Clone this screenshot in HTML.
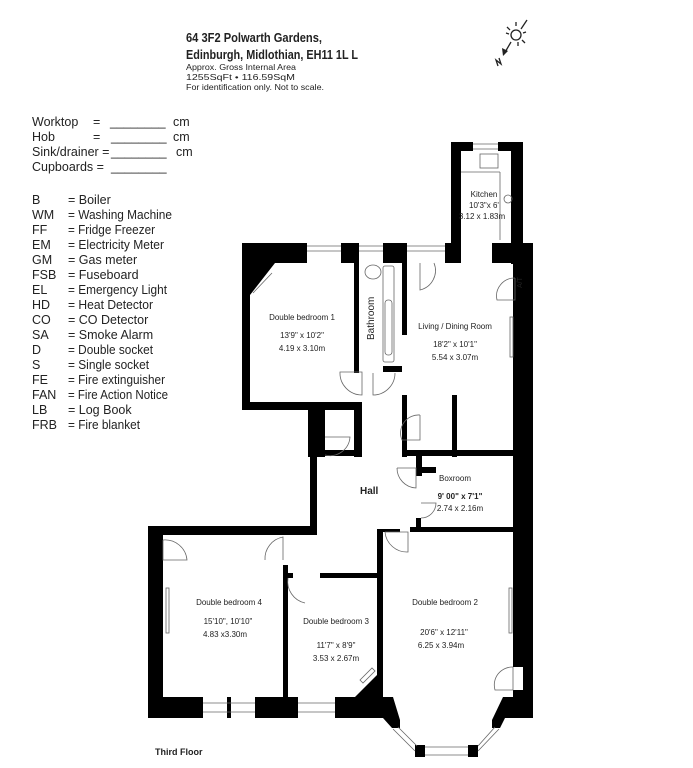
<!DOCTYPE html>
<html><head><meta charset="utf-8"><style>
html,body{margin:0;padding:0;background:#fff;}
svg{display:block;}
text{font-family:"Liberation Sans",sans-serif;fill:#222;}
.lg{font-size:12.5px;fill:#333;}
.rm{font-size:8px;fill:#333;}
</style></head><body>
<svg width="693" height="768" viewBox="0 0 693 768" xmlns="http://www.w3.org/2000/svg">
<!-- header -->
<text x="186" y="42" font-size="13" font-weight="bold" textLength="136" lengthAdjust="spacingAndGlyphs">64 3F2 Polwarth Gardens,</text>
<text x="186" y="59" font-size="13" font-weight="bold" textLength="172" lengthAdjust="spacingAndGlyphs">Edinburgh, Midlothian, EH11 1L L</text>
<text x="186" y="70" font-size="8.5" textLength="110" lengthAdjust="spacingAndGlyphs">Approx. Gross Internal Area</text>
<text x="186" y="80" font-size="8.5" fill="#555" textLength="109" lengthAdjust="spacingAndGlyphs">1255SqFt • 116.59SqM</text>
<text x="186" y="90" font-size="8.5" fill="#555" textLength="138" lengthAdjust="spacingAndGlyphs">For identification only. Not to scale.</text>
<!-- compass -->
<g stroke="#222" stroke-width="1.3" fill="none">
<circle cx="516" cy="35" r="5"/>
<line x1="516" y1="22" x2="516" y2="26"/><line x1="506" y1="33" x2="509" y2="34"/><line x1="523" y1="33" x2="526" y2="32"/>
<line x1="507" y1="27" x2="510" y2="30"/><line x1="522" y1="40" x2="525" y2="43"/><line x1="518" y1="42" x2="518" y2="46"/>
<line x1="527" y1="20" x2="521" y2="29"/>
<line x1="511" y1="42" x2="504" y2="54"/>
<path d="M499 58 L501 64 L496 60 L498 66"/>
</g>
<path d="M503 56 L502 48 L508 51 Z" fill="#222"/>
<!-- legend -->
<g class="lg">
<text x="32" y="126">Worktop</text><text x="93" y="126">=</text><text x="110" y="126">________</text><text x="173" y="126">cm</text>
<text x="32" y="141">Hob</text><text x="93" y="141">=</text><text x="111" y="141">________</text><text x="173" y="141">cm</text>
<text x="32" y="156">Sink/drainer =</text><text x="111" y="156">________</text><text x="176" y="156">cm</text>
<text x="32" y="171">Cupboards =</text><text x="111" y="171">________</text>
</g>
<g class="lg">
<text x="32" y="204">B</text><text x="68" y="204">= Boiler</text>
<text x="32" y="219">WM</text><text x="68" y="219" textLength="104" lengthAdjust="spacingAndGlyphs">= Washing Machine</text>
<text x="32" y="234">FF</text><text x="68" y="234" textLength="87" lengthAdjust="spacingAndGlyphs">= Fridge Freezer</text>
<text x="32" y="249">EM</text><text x="68" y="249" textLength="96" lengthAdjust="spacingAndGlyphs">= Electricity Meter</text>
<text x="32" y="264">GM</text><text x="68" y="264">= Gas meter</text>
<text x="32" y="279">FSB</text><text x="68" y="279">= Fuseboard</text>
<text x="32" y="294">EL</text><text x="68" y="294" textLength="99" lengthAdjust="spacingAndGlyphs">= Emergency Light</text>
<text x="32" y="309">HD</text><text x="68" y="309" textLength="85" lengthAdjust="spacingAndGlyphs">= Heat Detector</text>
<text x="32" y="324">CO</text><text x="68" y="324">= CO Detector</text>
<text x="32" y="339">SA</text><text x="68" y="339">= Smoke Alarm</text>
<text x="32" y="354">D</text><text x="68" y="354" textLength="85" lengthAdjust="spacingAndGlyphs">= Double socket</text>
<text x="32" y="369">S</text><text x="68" y="369" textLength="81" lengthAdjust="spacingAndGlyphs">= Single socket</text>
<text x="32" y="384">FE</text><text x="68" y="384" textLength="97" lengthAdjust="spacingAndGlyphs">= Fire extinguisher</text>
<text x="32" y="399">FAN</text><text x="68" y="399" textLength="100" lengthAdjust="spacingAndGlyphs">= Fire Action Notice</text>
<text x="32" y="414">LB</text><text x="68" y="414">= Log Book</text>
<text x="32" y="429">FRB</text><text x="68" y="429" textLength="72" lengthAdjust="spacingAndGlyphs">= Fire blanket</text>
</g>
<!-- walls -->
<g fill="#000">
<!-- kitchen -->
<rect x="451" y="142" width="10" height="121"/>
<rect x="451" y="142" width="22" height="9"/>
<rect x="498" y="142" width="25" height="9"/>
<rect x="511" y="142" width="12" height="122"/>
<!-- right outer wall -->
<rect x="513" y="258" width="20" height="409"/>
<rect x="523" y="667" width="10" height="51"/>
<rect x="513" y="690" width="10" height="28"/>
<rect x="492" y="243" width="41" height="20"/>
<!-- top of bedroom1 / bath / living -->
<rect x="242" y="243" width="65" height="20"/>
<path d="M242 263 L275 263 L250 295 L250 263 Z"/>
<rect x="242" y="243" width="8" height="167"/>
<rect x="341" y="243" width="18" height="20"/>
<rect x="383" y="243" width="24" height="20"/>
<rect x="445" y="243" width="16" height="20"/>
<rect x="354" y="263" width="5" height="110"/>
<rect x="402" y="263" width="5" height="72"/>
<rect x="383" y="366" width="19" height="6"/>
<!-- bedroom1 bottom -->
<rect x="242" y="402" width="120" height="8"/>
<rect x="354" y="402" width="8" height="55"/>
<rect x="308" y="402" width="17" height="55"/>
<rect x="308" y="450" width="54" height="6"/>
<!-- hall left -->
<rect x="310" y="450" width="7" height="85"/>
<!-- living bottom / cupboards -->
<rect x="402" y="395" width="5" height="62"/>
<rect x="402" y="450" width="113" height="6"/>
<rect x="452" y="395" width="5" height="62"/>
<!-- boxroom -->
<rect x="416" y="456" width="6" height="20"/>
<rect x="416" y="467" width="20" height="6"/>
<rect x="416" y="518" width="5" height="14"/>
<rect x="410" y="527" width="103" height="5"/>
<!-- bedroom4 -->
<rect x="148" y="526" width="169" height="9"/>
<rect x="148" y="526" width="15" height="192"/>
<rect x="148" y="697" width="55" height="21"/>
<rect x="227" y="697" width="4" height="21"/>
<rect x="255" y="697" width="43" height="21"/>
<rect x="283" y="565" width="5" height="132"/>
<rect x="283" y="573" width="10" height="5"/>
<rect x="320" y="573" width="60" height="5"/>
<!-- bed3/bed2 wall -->
<rect x="377" y="529" width="6" height="168"/>
<rect x="378" y="529" width="22" height="3"/>
<path d="M335 697 L355 697 L377 675 L383 675 L383 697 L393 697 L400 720 L400 728 L392 728 L383 718 L335 718 Z"/>
<!-- bed2 bay right -->
<path d="M503 697 L533 697 L533 718 L505 718 L500 728 L492 728 L492 720 Z"/>
<rect x="415" y="745" width="10" height="12"/>
<rect x="468" y="745" width="10" height="12"/>
</g>
<!-- windows (thin lines) -->
<g stroke="#666" stroke-width="0.8" fill="none">
<line x1="473" y1="144" x2="498" y2="144"/><line x1="473" y1="149" x2="498" y2="149"/>
<line x1="307" y1="246" x2="341" y2="246"/><line x1="307" y1="251" x2="341" y2="251"/>
<line x1="359" y1="246" x2="383" y2="246"/><line x1="359" y1="251" x2="383" y2="251"/>
<line x1="407" y1="246" x2="445" y2="246"/><line x1="407" y1="251" x2="445" y2="251"/>
<line x1="203" y1="703" x2="255" y2="703"/><line x1="203" y1="712" x2="255" y2="712"/>
<line x1="298" y1="703" x2="335" y2="703"/><line x1="298" y1="712" x2="335" y2="712"/>
<line x1="425" y1="747" x2="468" y2="747"/><line x1="425" y1="755" x2="468" y2="755"/>
<line x1="398" y1="727" x2="417" y2="746"/><line x1="393" y1="729" x2="415" y2="751"/>
<line x1="478" y1="746" x2="495" y2="727"/><line x1="478" y1="751" x2="499" y2="729"/>
<!-- doors -->
<path d="M362 372 L340 372 A22 22 0 0 0 362 395 Z"/>
<path d="M373 373 L373 395 A22 22 0 0 0 395 373"/>
<path d="M325 437 L350 437 A20 20 0 0 1 325 455"/>
<path d="M420 415 L420 440 L402 440 A18 18 0 0 1 420 415"/>
<path d="M420 263 L420 290 A20 20 0 0 0 434 263"/>
<path d="M515 278 L515 300 L497 300 A18 18 0 0 1 515 278"/>
<path d="M397 468 L416 468 L416 488 A20 20 0 0 1 397 468"/>
<path d="M421 503 L436 503 A15 15 0 0 1 421 518"/>
<path d="M385 532 L408 532 L408 552 A22 22 0 0 1 385 532"/>
<path d="M265 560 A22 22 0 0 1 283 537 L283 560"/>
<path d="M288 578 A22 22 0 0 0 305 603"/>
<path d="M163 540 L163 560 L187 560 A22 22 0 0 0 163 540"/>
<path d="M513 667 L513 690 L495 690 A18 18 0 0 1 513 667"/>
<path d="M360 680 L372 668 L375 671 L363 683 Z"/>
<!-- kitchen fittings -->
<rect x="480" y="154" width="18" height="14"/>
<line x1="461" y1="172" x2="500" y2="172"/><line x1="500" y1="172" x2="500" y2="240"/>
<circle cx="508" cy="199" r="4"/>
<!-- bath -->
<ellipse cx="373" cy="272" rx="8" ry="7"/>
<rect x="383" y="266" width="11" height="96" rx="2"/>
<rect x="385" y="300" width="7" height="55" rx="3"/>
<!-- bedroom1 diagonal -->
<line x1="253" y1="293" x2="272" y2="273"/>
<!-- radiators -->
<rect x="166" y="588" width="3" height="45"/>
<rect x="509" y="588" width="3" height="45"/>
<rect x="510" y="317" width="3" height="40"/>
</g>
<!-- labels -->
<g class="rm" text-anchor="middle">
<text x="484" y="197">Kitchen</text>
<text x="484" y="208">10'3"x 6'</text>
<text x="482" y="219">3.12 x 1.83m</text>
<text x="302" y="320">Double bedroom 1</text>
<text x="302" y="338">13'9" x 10'2"</text>
<text x="302" y="351">4.19 x 3.10m</text>
<text x="455" y="329">Living / Dining Room</text>
<text x="455" y="347">18'2" x 10'1"</text>
<text x="455" y="360">5.54 x 3.07m</text>
<text x="455" y="481">Boxroom</text>
<text x="460" y="499" font-weight="bold">9' 00" x 7'1"</text>
<text x="460" y="511">2.74 x 2.16m</text>
<text x="229" y="605">Double bedroom 4</text>
<text x="228" y="624">15'10", 10'10"</text>
<text x="225" y="637">4.83 x3.30m</text>
<text x="336" y="624">Double bedroom 3</text>
<text x="336" y="648">11'7" x 8'9"</text>
<text x="336" y="661">3.53 x 2.67m</text>
<text x="445" y="605">Double bedroom 2</text>
<text x="444" y="635">20'6" x 12'11"</text>
<text x="441" y="648">6.25 x 3.94m</text>
</g>
<text x="0" y="0" font-size="10" transform="translate(374 340) rotate(-90)" fill="#333">Bathroom</text>
<text x="0" y="0" font-size="7" transform="translate(522 288) rotate(-90)" fill="#fff">A/T</text>
<text x="360" y="494" font-size="10" font-weight="bold" fill="#333">Hall</text>
<text x="155" y="755" font-size="9" font-weight="bold" fill="#333">Third Floor</text>
</svg>
</body></html>
